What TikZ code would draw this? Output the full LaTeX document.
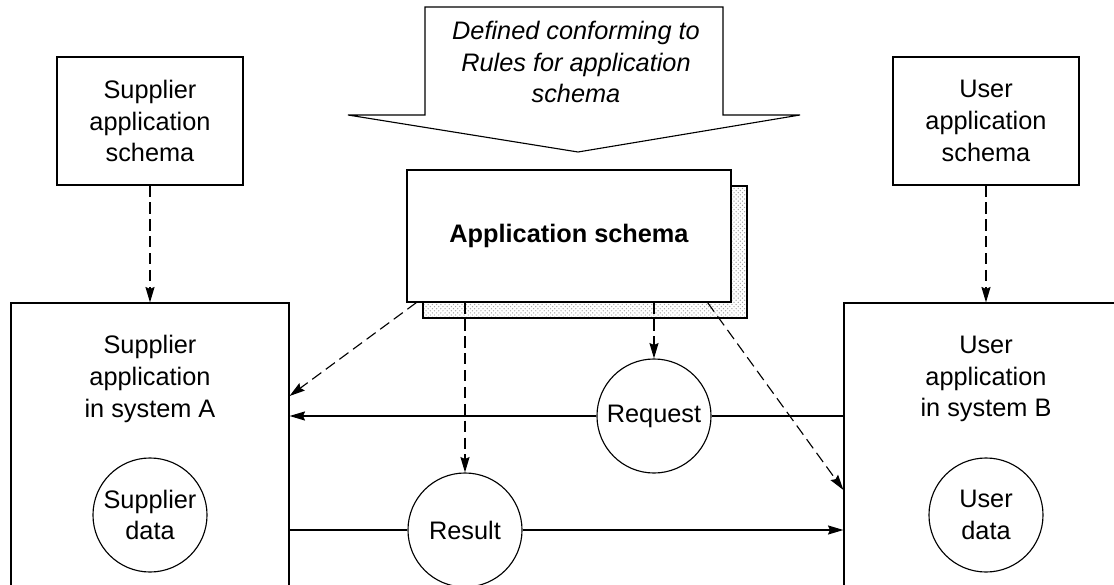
\documentclass[tikz,border=0pt]{standalone}
\usepackage{fontspec}
\setmainfont{Liberation Sans}
\usetikzlibrary{arrows.meta,calc,positioning,patterns}

\begin{document}
\begin{tikzpicture}[x=0.025cm,y=-0.025cm,
  font=\fontsize{18}{22.5}\selectfont,
  every node/.style={inner sep=0pt},
  box/.style={draw,line width=0.8pt,fill=white},
  disc/.style={draw,circle,line width=0.8pt,minimum size=2.85cm,align=center},
  msgarrow/.style={line width=0.8pt,-{Stealth[length=11pt,width=6.5pt,inset=1.5pt]}},
  deparrow/.style={msgarrow,dash pattern=on 8pt off 4pt}]
\path[use as bounding box,clip] (0,0) rectangle (1114,585);
\draw[line width=0.8pt,fill=white] (425,7) -- (723,7) -- (723,115) -- (800,115)
  -- (578,152) -- (348,115) -- (425,115) -- cycle;
\node[align=center,font=\fontsize{18}{22.5}\selectfont\itshape] (rules) at (576,62)
  {Defined conforming to\\Rules for application\\schema};
\node[box,minimum width=4.65cm,minimum height=3.2cm,align=center] (supschema) at (150,121)
  {Supplier\\application\\schema};
\node[box,minimum width=4.65cm,minimum height=3.2cm,align=center] (usrschema) at (986,121)
  {User\\application\\schema};
\node[draw,line width=0.8pt,pattern=crosshatch dots,pattern color=gray!70,
  minimum width=8.1cm,minimum height=3.3cm] (appshadow) at (585,252) {};
\node[box,minimum width=8.1cm,minimum height=3.3cm,font=\fontsize{18}{22.5}\selectfont\bfseries]
  (appschema) at (569,236) {Application schema};
\node[box,minimum width=6.95cm,minimum height=7.5cm] (sysA) at (150,453) {};
\node[align=center] (sysAtext) at (150,379) {Supplier\\application\\in system A};
\node[box,minimum width=7.1cm,minimum height=7.5cm] (sysB) at (986,453) {};
\node[align=center] (sysBtext) at (986,379) {User\\application\\in system B};
\node[disc] (supdata) at (150,515) {Supplier\\data};
\node[disc] (usrdata) at (986,515) {User\\data};
\node[disc] (request) at (654,416) {Request};
\node[disc] (result) at (465,530) {Result};
\draw[deparrow] (supschema.south) -- (sysA.north);
\draw[deparrow] (usrschema.south) -- (sysB.north);
\draw[line width=0.8pt] (sysB.west |- request) -- (request);
\draw[msgarrow] (request) -- (sysA.east |- request);
\draw[line width=0.8pt] (sysA.east |- result) -- (result);
\draw[msgarrow] (result) -- (sysB.west |- result);
\draw[deparrow] (request |- appschema.south) -- (request);
\draw[deparrow] (result |- appschema.south) -- (result);
\draw[deparrow] ($(appschema.south west)+(10,0)$) -- ($(sysA.east |- request)+(0,-20)$);
\draw[deparrow] ($(appschema.south east)+(-24,0)$) -- ($(sysB.west |- result)+(0,-40)$);
\end{tikzpicture}
\end{document}
